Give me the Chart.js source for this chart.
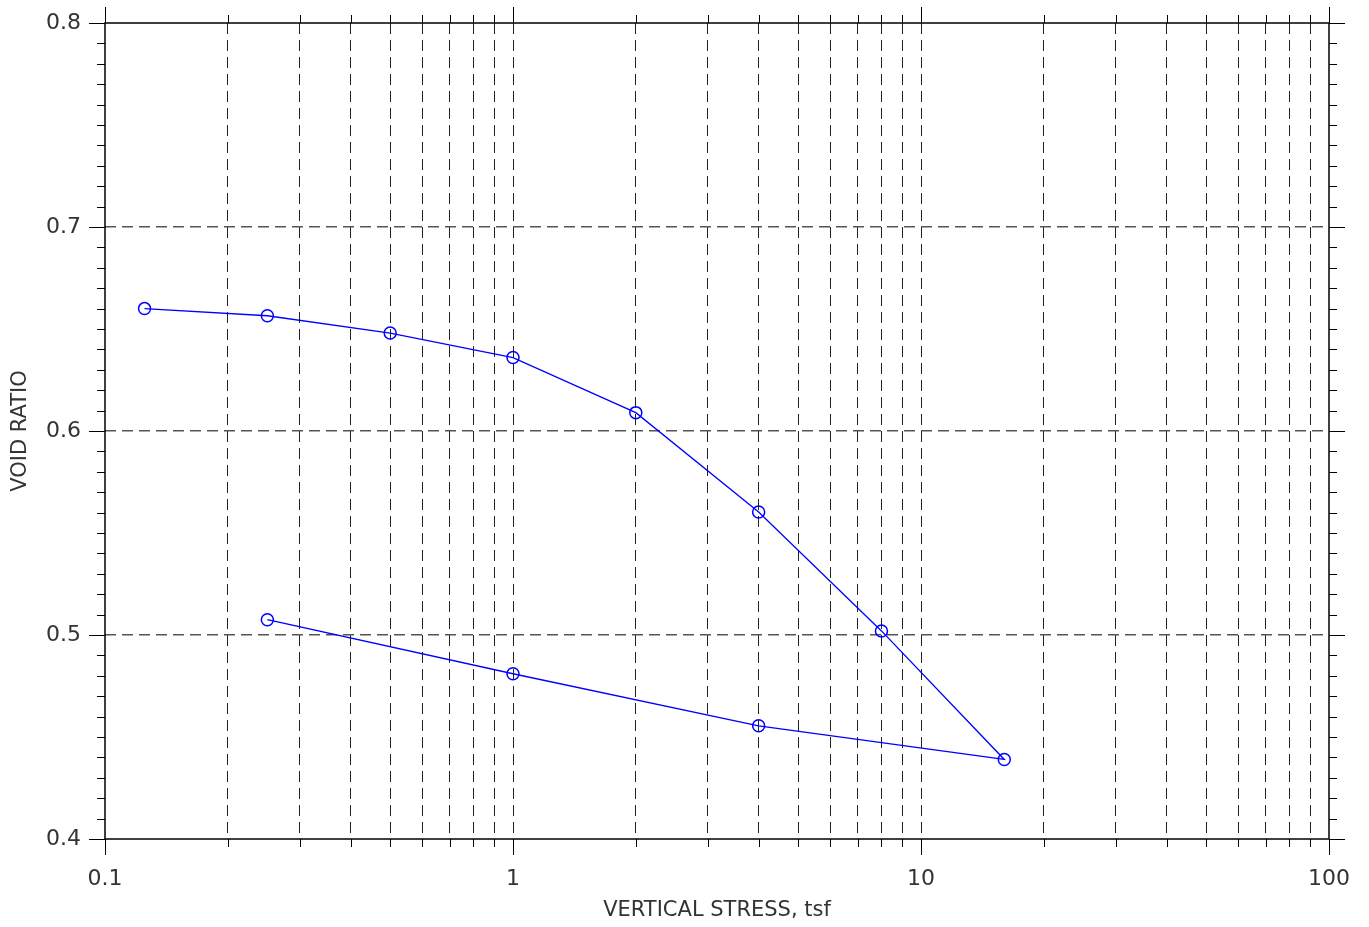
<!DOCTYPE html>
<html lang="en">
  <head>
    <meta charset="UTF-8" />
    <title>Void Ratio vs Vertical Stress</title>
    <script src="https://cdn.jsdelivr.net/npm/chart.js@4.4.0/dist/chart.umd.min.js"></script>
    <style>
      html, body {
        margin: 0;
        padding: 0;
        background: #fff;
      }
      .wrap {
        width: 1369px;
        height: 927px;
      }
    </style>
  </head>
  <body>
    <div class="wrap">
      <canvas id="consolChart" width="1369" height="927"></canvas>
    </div>

    <script>
      // load path then unload path, in test order
      const stress = [0.125, 0.25, 0.5, 1, 2, 4, 8, 16, 4, 1, 0.25];
      const voidRatio = [0.66, 0.6565, 0.648, 0.636, 0.609, 0.5603, 0.502, 0.439, 0.4555, 0.481, 0.5075];

      const xTicks = [
        0.1, 0.2, 0.3, 0.4, 0.5, 0.6, 0.7, 0.8, 0.9,
        1, 2, 3, 4, 5, 6, 7, 8, 9,
        10, 20, 30, 40, 50, 60, 70, 80, 90, 100,
      ];
      const xLabels = [0.1, 1, 10, 100];
      const yTicks = [0.4, 0.5, 0.6, 0.7, 0.8];
      const yMinorStep = 0.01;

      const tickFont = { family: 'DejaVu Sans', size: 22 };
      const titleFont = { family: 'DejaVu Sans', size: 21 };

      // frame and tick marks on all four sides
      const framePlugin = {
        id: 'frame',
        beforeDatasetsDraw(chart) {
          const { ctx, chartArea: a, scales } = chart;
          const xs = scales.x, ys = scales.y;
          ctx.save();
          ctx.strokeStyle = '#000';
          ctx.lineWidth = 1;
          ctx.beginPath();
          xTicks.forEach((v) => {
            const px = Math.round(xs.getPixelForValue(v)) + 0.5;
            const len = xLabels.includes(v) ? 16 : 8;
            ctx.moveTo(px, a.top - len);
            ctx.lineTo(px, a.top);
            ctx.moveTo(px, a.bottom);
            ctx.lineTo(px, a.bottom + len);
          });
          for (let i = 0; i <= 40; i++) {
            const v = 0.4 + i * yMinorStep;
            const py = Math.round(ys.getPixelForValue(v)) + 0.5;
            const len = i % 10 === 0 ? 16 : 8;
            ctx.moveTo(a.left - len, py);
            ctx.lineTo(a.left, py);
            ctx.moveTo(a.right, py);
            ctx.lineTo(a.right + len, py);
          }
          ctx.stroke();
          ctx.lineWidth = 1.5;
          ctx.strokeRect(a.left, a.top, a.right - a.left, a.bottom - a.top);
          ctx.restore();
        },
      };

      const ctx = document.getElementById('consolChart').getContext('2d');
      new Chart(ctx, {
        type: 'scatter',
        data: {
          datasets: [
            {
              label: 'Void ratio',
              data: stress.map((s, i) => ({ x: s, y: voidRatio[i] })),
              showLine: true,
              borderColor: '#0000ff',
              borderWidth: 1.3,
              pointStyle: 'circle',
              pointRadius: 6,
              pointBorderWidth: 1.5,
              pointBorderColor: '#0000ff',
              pointBackgroundColor: 'rgba(0,0,0,0)',
              tension: 0,
            },
          ],
        },
        options: {
          responsive: false,
          animation: false,
          layout: { padding: { top: 23, right: 40, left: 0, bottom: 0 } },
          plugins: {
            legend: { display: false },
            tooltip: { enabled: false },
          },
          scales: {
            x: {
              type: 'logarithmic',
              min: 0.1,
              max: 100,
              afterBuildTicks: (scale) => {
                scale.ticks = xTicks.map((v) => ({ value: v }));
              },
              afterFit: (scale) => {
                scale.height = 88;
                scale.paddingLeft = 0;
                scale.paddingRight = 0;
              },
              ticks: {
                autoSkip: false,
                maxRotation: 0,
                padding: 27,
                color: '#333',
                font: tickFont,
                callback: (v) => (xLabels.includes(v) ? String(v) : ''),
              },
              grid: {
                drawTicks: false,
                color: (c) =>
                  c.tick && (c.tick.value === 0.1 || c.tick.value === 100)
                    ? 'rgba(0,0,0,0)'
                    : '#222',
                lineWidth: 1,
              },
              border: { display: false, dash: [11, 6] },
              title: {
                display: true,
                text: 'VERTICAL STRESS, tsf',
                color: '#333',
                font: titleFont,
                padding: { top: 0, bottom: 4 },
              },
            },
            y: {
              min: 0.4,
              max: 0.8,
              afterBuildTicks: (scale) => {
                scale.ticks = yTicks.map((v) => ({ value: v }));
              },
              afterFit: (scale) => {
                scale.width = 105;
                scale.paddingTop = 0;
                scale.paddingBottom = 0;
              },
              ticks: {
                padding: 24,
                color: '#333',
                font: tickFont,
                callback: (v) => v.toFixed(1),
              },
              grid: {
                drawTicks: false,
                color: (c) =>
                  c.tick && (c.tick.value === 0.4 || c.tick.value === 0.8)
                    ? 'rgba(0,0,0,0)'
                    : '#555',
                lineWidth: 1.5,
              },
              border: { display: false, dash: [11, 6] },
              title: {
                display: true,
                text: 'VOID RATIO',
                color: '#333',
                font: titleFont,
                padding: { top: 8, bottom: 0 },
              },
            },
          },
        },
        plugins: [framePlugin],
      });
    </script>
  </body>
</html>
